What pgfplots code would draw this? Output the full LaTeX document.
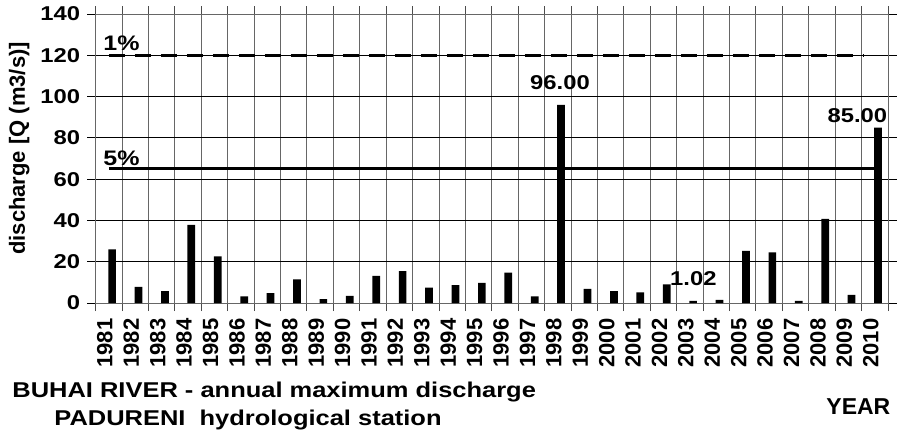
\documentclass[border=0pt]{standalone}
\usepackage{fontspec}
\setmainfont{Liberation Sans}
\newfontfamily\wide[FakeStretch=1.19]{Liberation Sans}
\usepackage{pgfplots}
\usepackage{pgfplotstable}
\pgfplotsset{compat=1.18}

% annual maximum discharge, Buhai river (m3/s), index 0 = 1981
\pgfplotstableread{
idx year Q
0 1981 26.0
1 1982 7.8
2 1983 5.8
3 1984 37.8
4 1985 22.6
5 1986 3.2
6 1987 4.8
7 1988 11.5
8 1989 1.9
9 1990 3.5
10 1991 13.2
11 1992 15.5
12 1993 7.4
13 1994 8.7
14 1995 9.7
15 1996 14.7
16 1997 3.2
17 1998 96.0
18 1999 6.8
19 2000 5.8
20 2001 5.2
21 2002 9.0
22 2003 1.02
23 2004 1.5
24 2005 25.3
25 2006 24.5
26 2007 1.0
27 2008 40.7
28 2009 4.0
29 2010 85.0
}\discharge

\begin{document}
\begin{tikzpicture}[font=\wide\fontsize{10}{12}\selectfont\bfseries]
\useasboundingbox (-47.85pt,-66pt) rectangle (401.15pt,151.5pt);
\begin{axis}[
    at={(0,0)}, anchor=south west,
    width=396.15pt, height=144.5pt, scale only axis,
    xmin=-0.5, xmax=29.5, ymin=0, ymax=140,
    ytick={0,20,...,140},
    xtick={0,...,29},
    xticklabels={1981,1982,1983,1984,1985,1986,1987,1988,1989,1990,
                 1991,1992,1993,1994,1995,1996,1997,1998,1999,2000,
                 2001,2002,2003,2004,2005,2006,2007,2008,2009,2010},
    minor xtick={-0.5,0.5,...,29.5},
    major x tick style={draw=none},
    minor x tick style={black!70, line width=0.5pt},
    minor tick length=4pt,
    major tick length=4.3pt,
    tick align=outside,
    ymajorgrids, xminorgrids,
    major grid style={black, line width=0.5pt},
    minor grid style={black!60, line width=0.5pt},
    axis line style={black!60, line width=0.5pt},
    y tick style={black, line width=0.5pt},
    /pgf/number format/assume math mode=true,
    yticklabel style={font=\wide\fontsize{10}{12}\selectfont\bfseries},
    xticklabel style={xshift=-2pt, rotate=90, anchor=east,
        font=\rmfamily\fontsize{11}{12}\selectfont\bfseries},
    ylabel={discharge [Q (m3/s)]},
    ylabel style={at={(ticklabel cs:0.535,-1.5pt)},
        font=\rmfamily\fontsize{11}{12}\selectfont\bfseries},
    clip=false,
]
\addplot[ybar, bar width=3.85pt, bar shift=1.6pt, fill=black, draw=none]
    table[x=idx, y=Q] {\discharge};
% 1% and 5% flood levels
\addplot[black, line width=1.5pt, dash pattern=on 8pt off 5pt]
    coordinates {(0,120) (28.6,120)};
\addplot[black, line width=1.5pt] coordinates {(0,65) (29,65)};
\node[anchor=base west, inner sep=0pt, font=\wide\fontsize{10.5}{12}\selectfont\bfseries]
    at (axis cs:-0.22,122.2) {1\%};
\node[anchor=base west, inner sep=0pt, font=\wide\fontsize{10.5}{12}\selectfont\bfseries]
    at (axis cs:-0.22,66.5) {5\%};
\node[anchor=base, inner sep=0pt] at (axis cs:17.08,103.3) {96.00};
\node[anchor=base, inner sep=0pt] at (axis cs:28.34,87.5) {85.00};
\node[anchor=base, inner sep=0pt] at (axis cs:22.13,8.4) {1.02};
\end{axis}
\node[anchor=base west, inner sep=0pt, font=\wide\fontsize{10.7}{12}\selectfont\bfseries]
    at (-41.85pt,-47.2pt) {BUHAI RIVER - annual maximum discharge};
\node[anchor=base west, inner sep=0pt, font=\wide\fontsize{10.7}{12}\selectfont\bfseries]
    at (-20.85pt,-61.4pt) {PADURENI\ \ hydrological station};
\node[anchor=base east, inner sep=0pt, font=\rmfamily\fontsize{11.5}{12}\selectfont\bfseries]
    at (397.5pt,-55.5pt) {YEAR};
\end{tikzpicture}
\end{document}
